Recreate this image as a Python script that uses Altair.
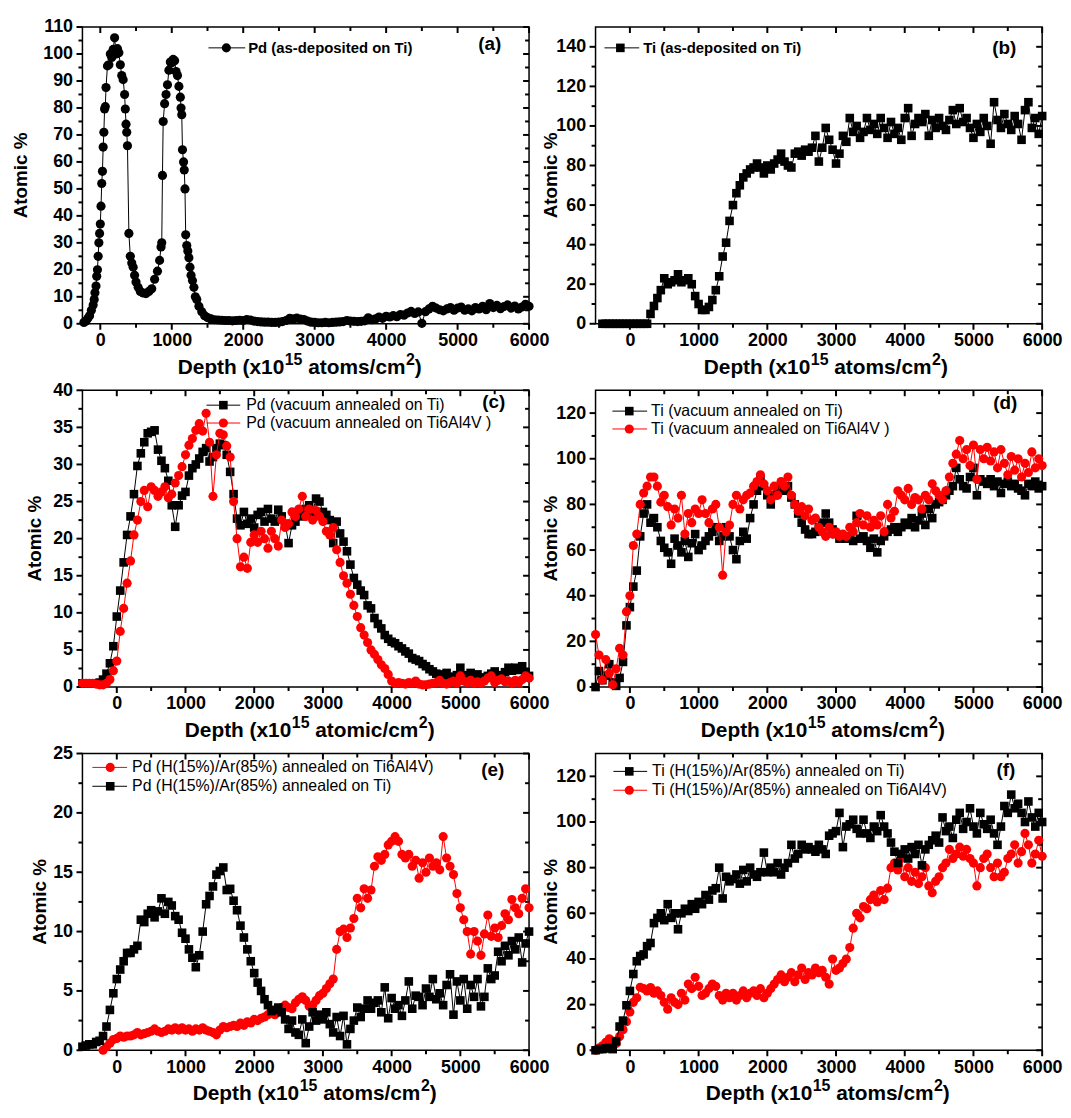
import altair as alt
import pandas as pd

FONT = "Liberation Sans"
W, H = 450, 299
BLACK = "#000000"
RED = "#ff0000"

# ---------------- data ----------------
# (a) Pd as-deposited on Ti : irregular head, then 50-step tail from 1650
A_HEAD_X = [-230, -200, -175, -150, -125, -100, -85, -75, -60, -50,
            -40, -30, -20, -10, 0, 10, 20, 30, 40, 50,
            60, 70, 80, 100, 120, 140, 160, 180, 200, 220,
            240, 260, 280, 300, 320, 340, 350, 360, 370, 380,
            400, 420, 440, 460, 480, 500, 530, 560, 600, 640,
            680, 720, 760, 800, 830, 850, 860, 870, 880, 900,
            920, 940, 960, 980, 1000, 1020, 1040, 1060, 1080, 1100,
            1120, 1130, 1140, 1150, 1165, 1175, 1185, 1195, 1210, 1225,
            1240, 1255, 1270, 1290, 1310, 1330, 1350, 1380, 1420, 1460,
            1500, 1550, 1600]
A_HEAD_Y = [0.5, 1, 2, 3, 5, 7, 9, 11.5, 14, 17.6,
            20, 25, 30, 33.5, 37, 43.6, 52, 56.5, 65.5, 71,
            79.6, 80.5, 87.6, 95.6, 96, 100, 98.7, 101.7, 106, 100,
            102, 100.5, 96, 92, 90.5, 85, 79.6, 74, 71, 66,
            33.5, 25, 22.5, 21, 18, 15.5, 13.5, 12, 11.4, 11.2,
            12, 13, 16.5, 19.5, 23.5, 28.5, 30, 55, 75, 81.6,
            85, 88.6, 94, 97, 96.8, 98, 97.5, 93.5, 92, 88,
            84, 80, 77.5, 64.5, 60, 57, 50, 33, 29, 27,
            24.5, 21, 18, 16, 13.5, 10, 9, 6.5, 4.5, 3,
            2.3, 1.8, 1.5]
A_TAIL_START = 1650
A_TAIL_Y = [1.4, 1.3, 1.2, 1.2, 1.1, 1.2, 1.3, 1.2,
            1.6, 1.4, 1.0, 0.8, 0.7, 0.6, 0.6, 0.5, 0.5, 0.6, 0.8, 1.2,
            2.0, 1.8, 2.1, 1.7, 1.6, 1.0,
            0.6, 0.5, 0.4, 0.4, 0.5, 0.4, 0.5, 0.6, 0.7, 0.8, 1.2,
            1.0, 0.9, 0.8, 0.9, 1.1,
            2.2, 1.5, 1.8, 2.5, 2.0, 2.8,
            2.5, 3.0, 2.6, 3.4, 3.2, 4.0, 4.6, 3.8, 4.4, 0.2,
            4.5, 5.5, 6.5, 5.8, 5.2, 4.8, 5.5, 6.0, 5.0, 5.8,
            6.2, 5.0, 5.5, 4.8, 6.0, 5.5, 6.5, 5.2, 7.5, 6.0,
            6.8, 5.6, 6.4, 7.0, 5.8, 6.6, 5.5, 6.2, 7.2, 6.5]

STEP = 50

# (b) Ti as-deposited on Ti, from -400
B_START = -400
B_TI = [0, 0, 0, 0, 0, 0, 0, 0, 0, 0, 0, 0, 0, 0,
        5, 9, 13, 17, 23, 20, 21, 22, 25, 21, 22, 23, 20, 14, 10,
        7, 7, 8.5, 12, 17, 24, 34, 41, 52, 60,
        66, 70, 74, 76, 78, 79, 81, 79, 76, 80,
        78, 81, 83, 86, 82, 80, 79, 86, 87, 85,
        88, 87, 89, 95, 82, 89, 99, 93, 88, 81,
        86, 95, 92, 104, 97, 100, 94, 97, 104, 98,
        101, 96, 104, 99, 94, 102, 96, 99, 93, 104,
        109, 95, 101, 104, 102, 106, 95, 103, 99, 104,
        100, 98, 103, 108, 101, 109, 102, 104, 99, 94,
        101, 97, 104, 100, 91, 112, 103, 99, 106, 101,
        98, 105, 101, 93, 108, 112, 99, 104, 96, 105]

# (c) Pd vacuum annealed, from -500
C_START = -500
C_PD_TI = [0.5, 0.5, 0.5, 0.5, 0.5, 0.6, 1.0, 1.8, 3.2, 5.5,
           9.5, 13, 16.8, 20.5, 23, 26, 29.8, 31.5, 33, 34.2,
           34.4, 34.6, 32, 30.5, 29.5, 27.8, 24.5, 21.6, 24.5, 25.8,
           26.3, 28.5, 29.5, 30, 30.8, 31.7, 32.2, 30.4, 31, 32.2,
           32.8, 32.6, 31.3, 29, 26, 22.7, 21.8, 23.6, 22, 22.7,
           21.5, 23.2, 23.6, 22.3, 24, 22.7, 22.3, 23.9, 23, 22,
           19.4, 21.8, 22.3, 23.6, 23, 24, 24.5, 23.5, 25.4, 25,
           23.6, 23.2, 22.5, 19.4, 22.3, 20.7, 19.6, 18.3, 16.5, 14.7,
           13.8, 13, 12.4, 11, 10.6, 9.3, 8.5, 7.9, 7, 6.5,
           6.1, 5.9, 5.5, 5.2, 4.8, 4.5, 3.9, 3.7, 3.5, 3.1,
           2.8, 2.4, 2.1, 1.8, 1.7, 1.5, 1.9, 1.4, 1.2, 1.6,
           2.6, 1.4, 1.6, 1.9, 1.5, 1.7, 1.2, 1.3, 1.5, 1.8,
           2.1, 1.6, 1.5, 2.0, 2.6, 2.2, 2.6, 2.3, 2.8, 2.0,
           1.5]
C_PD_TI64 = [0.5, 0.5, 0.5, 0.5, 0.4, 0.3, 0.3, 0.5, 1.0, 2.2,
             3.5, 7.5, 10.6, 14, 17, 20.5, 22.5, 25, 26.5, 24.3,
             27, 26.5, 25.7, 26.3, 27, 25.5, 26, 27.5, 28.5, 29.7,
             31.3, 32.6, 33.5, 34.6, 35.5, 34.5, 36.9, 33, 25.7, 31.3,
             34.2, 34, 32.5, 31, 25, 20, 16.2, 17.5, 16, 19.5,
             20.5, 19.5, 21, 20, 18.7, 21, 20, 19, 22.5, 21.5,
             22, 23.6, 23, 24, 25.7, 23, 24, 22.5, 23.8, 23,
             22.3, 21, 20.5, 21.5, 18.5, 16.8, 15, 14, 12.5, 11,
             9.5, 8, 7, 6, 5, 4.4, 3.7, 3, 2.5, 1.7,
             0.8, 0.5, 0.6, 0.5, 0.4, 0.6, 0.5, 0.8, 0.4, 0.3,
             0.3, 0.4, 0.5, 0.6, 0.9, 0.5, 0.4, 0.6, 0.8, 0.5,
             1.5, 0.8, 0.6, 0.9, 0.5, 0.7, 0.5, 0.8, 1.2, 1.5,
             0.6, 0.9, 1.1, 0.7, 0.8, 0.5, 0.9, 0.6, 1.0, 1.5,
             1.2]

# (d) Ti vacuum annealed, from -500
D_START = -500
D_TI_TI = [0, 7, 3, 5, 10, 2, 0.5, 4, 11, 27,
           35, 44, 51, 66, 76, 80, 72, 74, 70, 64,
           61, 59, 54, 65, 62, 59, 64, 57, 63, 67,
           60, 62, 64, 66, 68, 70, 64, 66, 70, 66,
           60, 56, 64, 68, 65, 74, 80, 86, 91, 88,
           84, 80, 84, 86, 88, 86, 88, 83, 80, 76,
           72, 69, 67, 67, 68, 70, 72, 76, 72, 69,
           67, 65, 66, 65, 66, 64, 75, 65, 66, 64,
           61, 65, 59, 64, 66, 68, 69, 70, 68, 70,
           72, 71, 74, 70, 73, 76, 71, 78, 74, 80,
           81, 82, 84, 86, 88, 96, 91, 88, 87, 92,
           96, 84, 91, 90, 89, 91, 88, 90, 85, 89,
           90, 88, 89, 87, 86, 84, 89, 88, 90, 87,
           88]
D_TI_TI64 = [23, 14, 3, 12, 6, 1, 8, 17, 14, 33,
             40, 62, 67, 80, 85, 88, 92, 92, 88, 81,
             84, 79, 71, 78, 74, 84, 67, 76, 72, 78,
             76, 82, 76, 72, 78, 80, 70, 49, 68, 71,
             80, 84, 78, 82, 84, 85, 88, 90, 93, 89,
             86, 82, 88, 84, 90, 88, 92, 84, 80, 77,
             79, 75, 78, 73, 74, 70, 68, 66, 70, 67,
             68, 66, 67, 66, 70, 68, 72, 76, 71, 75,
             70, 73, 71, 75, 68, 80, 74, 77, 86, 84,
             82, 87, 80, 83, 82, 78, 84, 82, 89, 86,
             84, 82, 86, 92, 98, 102, 108, 100, 104, 97,
             106, 91, 104, 100, 105, 99, 103, 96, 104, 98,
             93, 101, 95, 100, 92, 98, 94, 103, 96, 100,
             97]

# (e) Pd H/Ar annealed
E_TI_START = -500
E_PD_TI = [0.3, 0.4, 0.5, 0.5, 0.7, 0.8, 1.2, 2, 3.4, 4.8,
           6, 6.8, 7.5, 8.2, 8.2, 8.5, 8.8, 11, 10.8, 11.5,
           11.8, 11.2, 11.7, 12.8, 11.5, 12.5, 12.2, 11.3, 11, 9.9,
           9.4, 8.5, 7.8, 7, 8, 10, 12.3, 13, 13.8, 14.8,
           15.1, 15.4, 13.5, 13.6, 12.6, 11.8, 10.5, 9.5, 8.5, 7.5,
           6.5, 5.7, 5, 4.3, 3.8, 3.3, 3.4, 3.6, 3.2, 2.6,
           1.8, 2.5, 1.5, 1.3, 2.6, 0.6, 2, 3.2, 2.5, 3,
           2.6, 3.2, 2.2, 1.5, 2.8, 1.2, 2.9, 0.5, 1.8, 2.5,
           3.6, 2.8, 3.5, 4.2, 3.5, 4, 4.2, 3.2, 5.3, 2.7,
           4.4, 3.5, 3.8, 2.9, 4.2, 5.8, 3.5, 4.6, 4.5, 3.8,
           5.2, 4.5, 6, 4.3, 4.8, 3.8, 5.5, 6.4, 3, 5.8,
           4.2, 6, 3.5, 5.5, 4.5, 6, 3.7, 4.5, 6.9, 6,
           6.3, 8.3, 7.5, 8.8, 8, 9.2, 8.5, 9.5, 7.4, 9,
           10]
E_TI64_START = -200
E_PD_TI64 = [0, 0.3, 0.6, 0.9, 1, 1.2, 1.1, 1.2, 1.2, 1.3,
             1.5, 1.3, 1.4, 1.5, 1.6, 1.8, 1.6, 1.5, 1.6, 1.8,
             1.7, 1.9, 1.7, 1.9, 1.7, 1.8, 1.6, 1.8, 1.7, 1.9,
             1.7, 1.6, 1.5, 1.3, 1.7, 2, 1.9, 2, 2.1, 2,
             2.3, 2.1, 2.4, 2.3, 2.6, 2.5, 2.7, 2.8, 3, 3.2,
             3, 3.3, 3.6, 3.8, 3.6, 3.5, 4, 4.3, 4.5, 4.2,
             3.7, 3.8, 4.2, 4.6, 4.8, 5.2, 5.6, 6, 8.5, 10,
             10.2, 9.5, 10.3, 11.1, 12.8, 12, 13.6, 12.8, 13.5, 15.5,
             16.3, 16, 16.5, 17.3, 17.6, 18, 17.6, 16.5, 16.2, 16.5,
             15.5, 16, 14.5, 15.8, 15, 16.2, 15.5, 15.8, 15.2, 18,
             16.2, 15.5, 14.8, 13.2, 12, 11, 10, 8.1, 10, 9.2,
             8, 9.8, 11.4, 9.6, 10.3, 9.5, 10.5, 11.5, 11, 12.7,
             12, 11.5, 12.8, 13.6, 12]

# (f) Ti H/Ar annealed, from -500
F_START = -500
F_TI_TI = [0, 0.5, 0.5, 0.8, 1, 0.5, 3.9, 10.4, 13, 19.7,
           26, 33.4, 39, 41.3, 42, 45.6, 47, 55.7, 58, 60,
           57, 64, 58, 60, 53, 60, 62, 61, 64, 62,
           65, 64, 68, 66, 70, 71, 80, 66.5, 76, 74,
           75, 77, 73, 79, 74, 80, 77, 76, 78, 86.6,
           78, 80, 78, 82, 77, 80, 82, 90, 84, 86,
           90, 88, 89, 88, 87, 90, 88, 86, 94, 95,
           96, 104, 89, 98, 99, 101, 97, 95, 101, 95,
           93, 98, 96, 103, 98, 95, 91, 87, 82, 86,
           88, 84, 89, 86, 90, 81, 88, 90, 92, 94,
           91, 102, 96, 98, 93, 101, 104, 97, 100, 106,
           98, 95, 104, 99, 97, 101, 95, 90, 98, 107,
           104, 112, 106, 108, 104, 100, 109, 102, 98, 104,
           100]
F_TI_TI64 = [0, 1, 2, 3.5, 5, 4, 3, 6, 9, 12.5,
             16.8, 21, 23, 27.6, 27, 26, 27.5, 25, 26, 24,
             21, 18, 23, 21, 20, 25, 22, 29, 27, 32,
             28, 24, 25, 27, 29, 28, 24, 22, 25, 23,
             25, 22, 24, 26, 23, 25, 26, 24, 27, 23,
             25, 27, 29, 31, 33, 30, 32, 34, 30, 33,
             36, 31, 34, 33, 36, 34, 35, 32, 29, 40,
             35, 36, 38, 40, 45, 53.5, 60, 58, 63, 62,
             66, 68, 65, 70, 66, 71, 80, 82, 79, 84,
             76, 80, 74, 78, 73, 76, 80, 72, 69, 74,
             76, 80, 82, 88, 84, 86, 89, 85, 88, 84,
             82, 72, 80, 84, 86, 80, 76, 82, 76, 78,
             84, 86, 90, 82, 87, 95, 90, 82, 86, 92,
             85]

# ---------------- helpers ----------------
ARIAL_BOLD = {' ': 278, '(': 333, ')': 333, '/': 278, '0': 556, '1': 556, '2': 556,
              '5': 556, 'D': 722, 'a': 556, 'c': 556, 'e': 556, 'h': 611, 'i': 278,
              'm': 889, 'o': 611, 'p': 611, 's': 556, 't': 333, 'x': 556, 'l': 278}


def tw(s, size):
    return sum(ARIAL_BOLD.get(ch, 556) for ch in s) * size / 1000.0


ONE = pd.DataFrame({"k": [0]})
TICKW = 2
MAJ, MIN = 6, 4


def frame(xs, ys):
    return pd.DataFrame({"depth": xs, "val": ys})


def grid(start, ys):
    return [start + STEP * i for i in range(len(ys))]


def rng(a, b, s):
    out = []
    v = a
    while v <= b + 1e-9:
        out.append(round(v, 3))
        v += s
    return out


def axis_layers(xsc, ysc, xdom, ydom, ymaj, ymin):
    xmaj = list(range(0, 6001, 1000))
    xmin = [v for v in range(-500, 6000, 1000) if xdom[0] < v < xdom[1]]
    dummy = pd.DataFrame({"depth": [xdom[0]], "val": [ydom[0]]})
    lab = dict(domain=False, grid=False, title=None, ticks=False, labels=True, labelFont=FONT,
               labelFontSize=18, labelFontWeight="bold", labelColor=BLACK,
               format="d", labelOverlap=False, labelFlush=False)
    out = [
        alt.Chart(dummy).mark_point(opacity=0).encode(
            x=alt.X("depth:Q", scale=xsc, axis=alt.Axis(orient="bottom", values=xmaj, labelPadding=8, **lab)),
            y=alt.Y("val:Q", scale=ysc, axis=None)),
        alt.Chart(dummy).mark_point(opacity=0).encode(
            x=alt.X("depth:Q", scale=xsc, axis=None),
            y=alt.Y("val:Q", scale=ysc, axis=alt.Axis(orient="left", values=ymaj, labelPadding=10, **lab))),
    ]
    # tick marks: bottom/left point outward, top/right mirrored inward
    for vals, ln, cy in [(xmaj, MAJ, H + MAJ / 2), (xmin, MIN, H + MIN / 2),
                         (xmaj, MAJ, MAJ / 2), (xmin, MIN, MIN / 2)]:
        out.append(alt.Chart(pd.DataFrame({"depth": vals})).mark_tick(
            orient="vertical", size=ln, thickness=TICKW, color=BLACK, opacity=1).encode(
            x=alt.X("depth:Q", scale=xsc, axis=None), y=alt.value(cy)))
    for vals, ln, cx in [(ymaj, MAJ, -MAJ / 2), (ymin, MIN, -MIN / 2),
                         (ymaj, MAJ, W - MAJ / 2), (ymin, MIN, W - MIN / 2)]:
        out.append(alt.Chart(pd.DataFrame({"val": vals})).mark_tick(
            orient="horizontal", size=ln, thickness=TICKW, color=BLACK, opacity=1).encode(
            y=alt.Y("val:Q", scale=ysc, axis=None), x=alt.value(cx)))
    return out


def data_layers(xsc, ysc, df, color, shape, size):
    enc = dict(x=alt.X("depth:Q", scale=xsc, axis=None), y=alt.Y("val:Q", scale=ysc, axis=None))
    line = alt.Chart(df).mark_line(color=color, strokeWidth=1).encode(**enc)
    pts = alt.Chart(df).mark_point(shape=shape, filled=True, size=size, color=color,
                                   opacity=1, strokeWidth=0).encode(**enc)
    return [line, pts]


def legend_layers(items, fsize, fweight):
    out = []
    for (x1, x2, xm, y, tx, label, color, shape, size) in items:
        out.append(alt.Chart(ONE).mark_rule(color=color, strokeWidth=1).encode(
            x=alt.value(x1), x2=alt.value(x2), y=alt.value(y)))
        out.append(alt.Chart(ONE).mark_point(shape=shape, filled=True, size=size, color=color,
                                             opacity=1, strokeWidth=0).encode(
            x=alt.value(xm), y=alt.value(y)))
        out.append(alt.Chart(ONE).mark_text(text=label, align="left", baseline="middle", font=FONT,
                                            fontSize=fsize, fontWeight=fweight, color=BLACK).encode(
            x=alt.value(tx), y=alt.value(y)))
    return out


def title_layers(word, ytitle_dx, base_dy, cx):
    F, S = 21, 16
    parts = [("Depth (x10", F, 0), ("15", S, -9), (word, F, 0), ("2", S, -9), (")", F, 0)]
    widths = [tw(p[0], p[1]) for p in parts]
    gap = tw(" ", F)
    total = sum(widths) + gap + 1.0
    x = cx - total / 2
    out = []
    for i, (s, fs, dy) in enumerate(parts):
        if i == 2:
            x += gap
        out.append(alt.Chart(ONE).mark_text(text=s, align="left", baseline="alphabetic", font=FONT,
                                            fontSize=fs, fontWeight="bold", color=BLACK).encode(
            x=alt.value(x), y=alt.value(H + base_dy + dy)))
        x += widths[i] + (0.5 if i in (0, 2) else 0)
    out.append(alt.Chart(ONE).mark_text(text="Atomic %", angle=270, align="center", baseline="middle",
                                        font=FONT, fontSize=19, fontWeight="bold", color=BLACK).encode(
        x=alt.value(-ytitle_dx), y=alt.value(H / 2)))
    return out


def panel(series, xdom, ydom, ymaj, ymin, legend, lfs, lfw, tag, tagpos, ydx, word, base_dy, cx):
    xsc = alt.Scale(domain=xdom, nice=False, zero=False)
    ysc = alt.Scale(domain=ydom, nice=False, zero=False)
    layers = axis_layers(xsc, ysc, xdom, ydom, ymaj, ymin)
    for df, color, shape, size in series:
        layers += data_layers(xsc, ysc, df, color, shape, size)
    layers += legend_layers(legend, lfs, lfw)
    layers.append(alt.Chart(ONE).mark_text(text=tag, align="right", baseline="middle", font=FONT,
                                           fontSize=19, fontWeight="bold", color=BLACK).encode(
        x=alt.value(tagpos[0]), y=alt.value(tagpos[1])))
    layers += title_layers(word, ydx, base_dy, cx)
    return alt.layer(*layers).resolve_axis(x="independent", y="independent").properties(width=W, height=H)


CS, SQ = 85, 75

df_a = frame(A_HEAD_X + [A_TAIL_START + STEP * i for i in range(len(A_TAIL_Y))], A_HEAD_Y + A_TAIL_Y)
df_b = frame(grid(B_START, B_TI), B_TI)
df_c1 = frame(grid(C_START, C_PD_TI), C_PD_TI)
df_c2 = frame(grid(C_START, C_PD_TI64), C_PD_TI64)
df_d1 = frame(grid(D_START, D_TI_TI), D_TI_TI)
df_d2 = frame(grid(D_START, D_TI_TI64), D_TI_TI64)
df_e1 = frame(grid(E_TI_START, E_PD_TI), E_PD_TI)
df_e2 = frame(grid(E_TI64_START, E_PD_TI64), E_PD_TI64)
df_f1 = frame(grid(F_START, F_TI_TI), F_TI_TI)
df_f2 = frame(grid(F_START, F_TI_TI64), F_TI_TI64)

LF = 16
pa = panel([(df_a, BLACK, "circle", CS)], [-250, 6000], [0, 110],
           rng(0, 110, 10), rng(5, 105, 10),
           [(127, 164, 145, 21, 167, "Pd (as-deposited on Ti)", BLACK, "circle", CS)], 15, "bold",
           "(a)", (422, 17), 62, "atoms/cm", 51, 219)
pb = panel([(df_b, BLACK, "square", SQ)], [-500, 6000], [0, 150],
           rng(0, 140, 20), rng(10, 130, 20),
           [(9, 44, 25, 21, 48, "Ti (as-deposited on Ti)", BLACK, "square", SQ)], 15, "bold",
           "(b)", (424, 21), 45, "atoms/cm", 51, 232)
pc = panel([(df_c1, BLACK, "square", SQ), (df_c2, RED, "circle", CS)], [-500, 6000], [0, 40],
           rng(0, 40, 5), rng(2.5, 37.5, 5),
           [(125, 159, 142, 15, 165, "Pd (vacuum annealed on Ti)", BLACK, "square", SQ),
            (125, 159, 142, 33, 165, "Pd (vacuum annealed on Ti6Al4V )", RED, "circle", CS)], LF, "normal",
           "(c)", (426, 12), 48, "atomic/cm", 50, 229)
pd_ = panel([(df_d1, BLACK, "square", SQ), (df_d2, RED, "circle", CS)], [-500, 6000], [0, 130],
            rng(0, 120, 20), rng(10, 110, 20),
            [(17, 52, 34, 21, 56, "Ti (vacuum annealed on Ti)", BLACK, "square", SQ),
             (17, 52, 34, 39, 56, "Ti (vacuum annealed on Ti6Al4V )", RED, "circle", CS)], LF, "normal",
            "(d)", (425, 13), 45, "atoms/cm", 50, 229)
pe = panel([(df_e2, RED, "circle", CS), (df_e1, BLACK, "square", SQ)], [-500, 6000], [0, 25],
           rng(0, 25, 5), rng(2.5, 22.5, 5),
           [(10, 45, 28, 14, 50, "Pd (H(15%)/Ar(85%) annealed on Ti6Al4V)", RED, "circle", CS),
            (10, 45, 28, 33, 50, "Pd (H(15%)/Ar(85%) annealed on Ti)", BLACK, "square", SQ)], LF, "normal",
           "(e)", (425, 17), 43, "atoms/cm", 50, 234)
pf = panel([(df_f2, RED, "circle", CS), (df_f1, BLACK, "square", SQ)], [-500, 6000], [0, 130],
           rng(0, 120, 20), rng(10, 110, 20),
           [(18, 52, 34, 18, 57, "Ti (H(15%)/Ar(85%) annealed on Ti)", BLACK, "square", SQ),
            (18, 52, 34, 37, 57, "Ti (H(15%)/Ar(85%) annealed on Ti6Al4V)", RED, "circle", CS)], LF, "normal",
           "(f)", (423, 17), 45, "atoms/cm", 50, 234)

chart = alt.concat(pa, pb, pc, pd_, pe, pf, columns=2, spacing=67, bounds="flush").properties(
    padding={"left": 3, "top": 5, "right": 0, "bottom": 0}
).configure_view(stroke=BLACK, strokeWidth=1.5)

chart.save("out.html", embed_options={"renderer": "svg", "actions": False})
